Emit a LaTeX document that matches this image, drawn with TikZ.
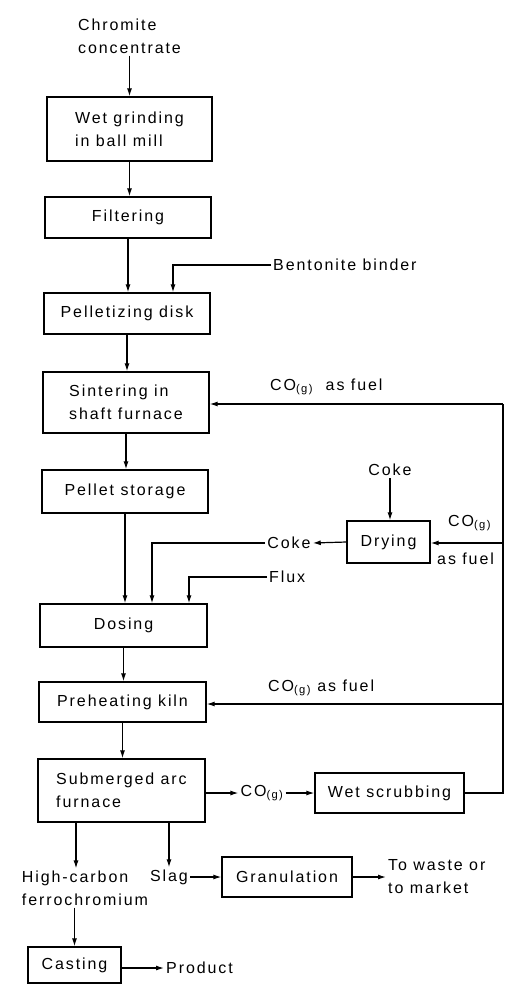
\documentclass[tikz,border=0pt]{standalone}
\usepackage{fontspec}
\setmainfont{Liberation Sans}[LetterSpace=12]
\usetikzlibrary{arrows.meta,calc}
\begin{document}
\begin{tikzpicture}[x=1pt,y=-1pt,
  every node/.style={font=\fontsize{16}{23}\selectfont, inner sep=2pt},
  box/.style={draw, line width=1.3pt, align=left, inner sep=0pt},
  lbl/.style={align=left, inner sep=2pt},
  arr/.style={line width=1.2pt, -{Latex[length=8pt,width=5pt]}},
  ln/.style={line width=1.2pt}]
\useasboundingbox (0,0) rectangle (505,986);
% boxes
\node[box, minimum width=165, minimum height=64] (wet) at (129.5,129) {Wet grinding\\in ball mill};
\node[box, minimum width=166, minimum height=41] (filt) at (128,217.5) {Filtering};
\node[box, minimum width=166, minimum height=41] (pell) at (127,313.5) {Pelletizing disk};
\node[box, minimum width=166, minimum height=61] (sint) at (126,402.5) {Sintering in\\shaft furnace};
\node[box, minimum width=166, minimum height=43] (stor) at (125,491.5) {Pellet storage};
\node[box, minimum width=83, minimum height=42] (dry) at (388.5,542) {Drying};
\node[box, minimum width=167, minimum height=43] (dos) at (123.5,625.5) {Dosing};
\node[box, minimum width=167, minimum height=40] (pre) at (122.5,702) {Preheating kiln};
\node[box, minimum width=167, minimum height=63] (sub) at (121.5,790.5) {Submerged arc\\furnace};
\node[box, minimum width=149, minimum height=40] (ws) at (389.5,793) {Wet scrubbing};
\node[box, minimum width=130, minimum height=40] (gran) at (287,877) {Granulation};
\node[box, minimum width=93, minimum height=36] (cast) at (74.5,965) {Casting};
% labels
\node[lbl] (chrom) at (129.5,36) {Chromite\\concentrate};
\node[lbl, anchor=west] (bent) at (271,265) {Bentonite binder};
\node[lbl, anchor=west] (fuel1) at (268,387) {CO\textsubscript{(g)}\ \ as fuel};
\node[lbl] (coketop) at (390,470) {Coke};
\node[lbl, anchor=west] (co2) at (446,523) {CO\textsubscript{(g)}};
\node[lbl, anchor=west] (fuel2) at (435,559) {as fuel};
\node[lbl] (cokel) at (289,543) {Coke};
\node[lbl, anchor=west] (flux) at (267,577) {Flux};
\node[lbl, anchor=west] (fuel3) at (266,688) {CO\textsubscript{(g)} as fuel};
\node[lbl] (co4) at (262,793) {CO\textsubscript{(g)}};
\node[lbl] (hc) at (85,888) {High-carbon\\ferrochromium};
\node[lbl] (slag) at (169,877) {Slag};
\node[lbl, anchor=west] (waste) at (386,877) {To waste or\\to market};
\node[lbl, anchor=west] (prod) at (164,968) {Product};
% right-hand gas line
\coordinate (r1) at (503,404);
\coordinate (r2) at (503,543);
\coordinate (r3) at (503,704);
% main column
\draw[arr] (chrom) -- (chrom |- wet.north);
\draw[arr] (wet) -- (wet |- filt.north);
\draw[arr] (filt) -- (filt |- pell.north);
\draw[arr] (bent.west) -| ([xshift=46pt]pell.north);
\draw[arr] (pell) -- (pell |- sint.north);
\draw[arr] (r1) -- (r1 -| sint.east);
\draw[arr] (sint) -- (sint |- stor.north);
\draw[arr] (coketop) -- (coketop |- dry.north);
\draw[arr] (r2) -- (r2 -| dry.east);
\draw[arr] (dry.west) -- (cokel.east);
\draw[arr] (cokel.west) -| ([xshift=28.5pt]dos.north);
\draw[arr] (stor) -- (stor |- dos.north);
\draw[arr] (flux.west) -| ([xshift=65.5pt]dos.north);
\draw[arr] (dos) -- (dos |- pre.north);
\draw[arr] (r3) -- (r3 -| pre.east);
\draw[arr] (pre) -- (pre |- sub.north);
\draw[arr] (sub.east |- co4) -- (co4.west);
\draw[arr] (co4.east) -- (ws.west |- co4);
\draw[ln] (ws.east) -| (r1);
\draw[arr] ([xshift=-45.5pt]sub.south) -- ([xshift=-45.5pt]sub.south |- hc.north);
\draw[arr] (sub.south -| slag) -- (slag.north);
\draw[arr] (slag.east) -- (gran.west |- slag);
\draw[arr] (gran.east) -- (waste.west |- gran);
\draw[arr] (hc.south -| cast.north) -- (cast.north);
\draw[arr] (cast.east |- prod) -- (prod.west);
\end{tikzpicture}
\end{document}
